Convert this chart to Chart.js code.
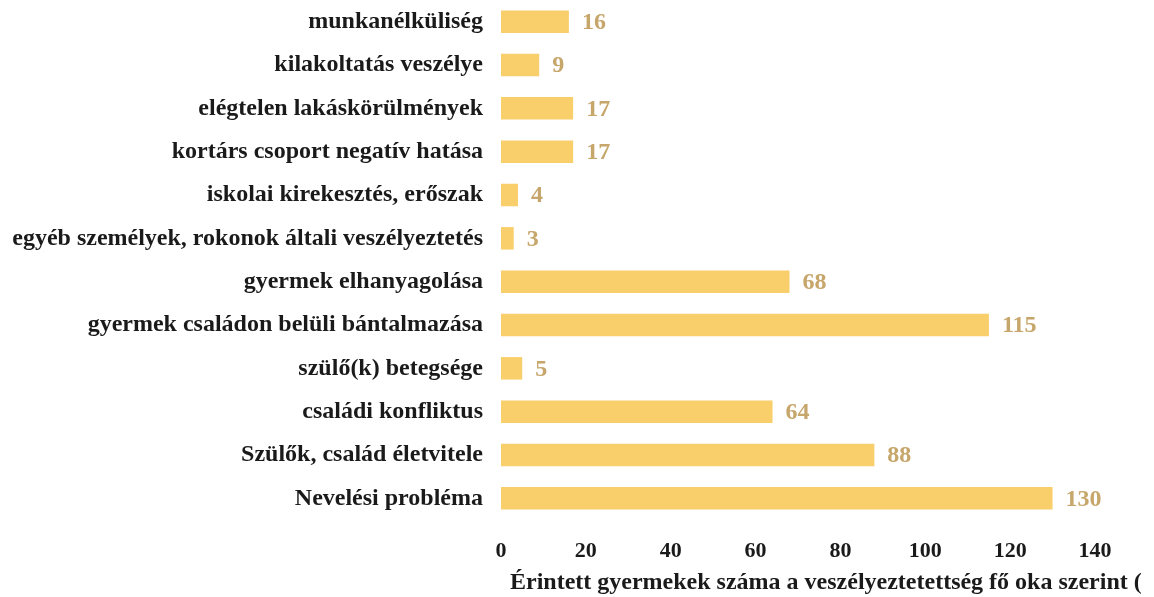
<!DOCTYPE html>
<html>
<head>
<meta charset="utf-8">
<script src="https://cdn.jsdelivr.net/npm/chart.js@4"></script>
<style>
  html, body { margin: 0; padding: 0; background: #fff; overflow: hidden; }
  #wrap { width: 1154px; height: 597px; }
</style>
</head>
<body>
<div id="wrap"><canvas id="chartOkok"></canvas></div>
<script>
// Veszélyeztetettség okai
const okokLabels = [
    'munkanélküliség',
    'kilakoltatás veszélye',
    'elégtelen lakáskörülmények',
    'kortárs csoport negatív hatása',
    'iskolai kirekesztés, erőszak',
    'egyéb személyek, rokonok általi veszélyeztetés',
    'gyermek elhanyagolása',
    'gyermek családon belüli bántalmazása',
    'szülő(k) betegsége',
    'családi konfliktus',
    'Szülők, család életvitele',
    'Nevelési probléma'
];
const okokData = [16, 9, 17, 17, 4, 3, 68, 115, 5, 64, 88, 130];
const xTicks = [0, 20, 40, 60, 80, 100, 120, 140];
const tengelyCim = 'Érintett gyermekek száma a veszélyeztetettség fő oka szerint (';

const serif = '"Liberation Serif", "Times New Roman", serif';

// értékek kiírása a sávok mellé + tengelycím (a beépített cím összenyomódna)
const ertekCimkek = {
    id: 'ertekCimkek',
    afterDatasetsDraw(chart) {
        const ctx = chart.ctx;
        const meta = chart.getDatasetMeta(0);
        ctx.save();
        ctx.font = 'bold 24px ' + serif;
        ctx.fillStyle = '#c6a66a';
        ctx.textAlign = 'left';
        ctx.textBaseline = 'middle';
        meta.data.forEach(function (bar, i) {
            ctx.fillText(String(okokData[i]), bar.x + 13, bar.y + 1);
        });

        const xScale = chart.scales.x;
        ctx.font = 'bold 24px ' + serif;
        ctx.fillStyle = '#1a1a1a';
        ctx.fillText(tengelyCim, chart.chartArea.left + 9, xScale.bottom - 14);
        ctx.restore();
    }
};

document.addEventListener('DOMContentLoaded', function () {
    try {
        new Chart(document.getElementById('chartOkok'), {
            type: 'bar',
            data: {
                labels: okokLabels,
                datasets: [{
                    data: okokData,
                    backgroundColor: '#f9cf6b',
                    barPercentage: 0.52,
                    categoryPercentage: 1
                }]
            },
            options: {
                indexAxis: 'y',
                responsive: true,
                maintainAspectRatio: false,
                animation: false,
                layout: { padding: { left: 8, right: 59, top: 0, bottom: 0 } },
                plugins: {
                    legend: { display: false },
                    tooltip: { enabled: false }
                },
                scales: {
                    x: {
                        min: 0,
                        max: 140,
                        afterBuildTicks: function (scale) {
                            scale.ticks = xTicks.map(v => ({ value: v }));
                        },
                        afterFit: function (scale) { scale.height = 77; },
                        grid: { display: false, drawTicks: false },
                        border: { display: false },
                        ticks: {
                            color: '#1a1a1a',
                            padding: 18,
                            maxRotation: 0,
                            font: { family: serif, size: 22, weight: 'bold' }
                        }
                    },
                    y: {
                        afterFit: function (scale) {
                            scale.width = 493;
                            scale.paddingTop = 0;
                            scale.paddingBottom = 0;
                        },
                        grid: { display: false, drawTicks: false },
                        border: { display: false },
                        ticks: {
                            color: '#1a1a1a',
                            padding: 18,
                            autoSkip: false,
                            font: { family: serif, size: 24, weight: 'bold' }
                        }
                    }
                }
            },
            plugins: [ertekCimkek]
        });
    } catch (error) {
        console.error('Hiba a diagram létrehozásakor:', error);
    }
});
</script>
</body>
</html>
